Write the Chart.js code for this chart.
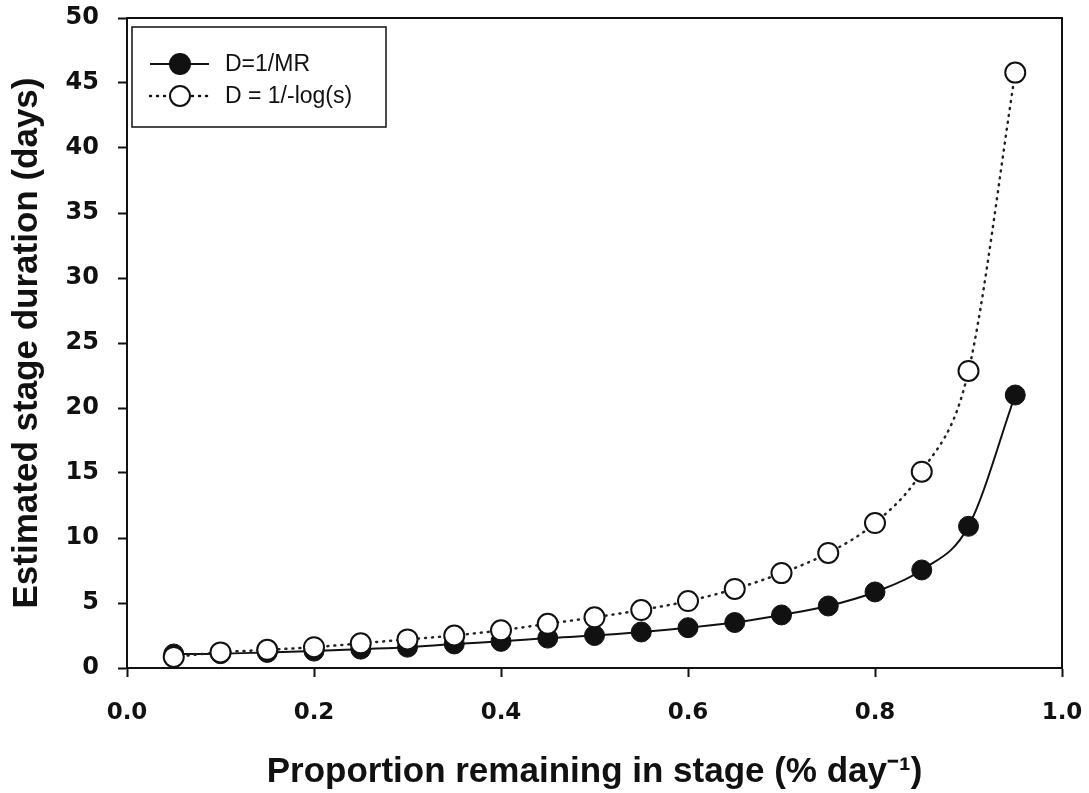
<!DOCTYPE html>
<html>
<head>
<meta charset="utf-8">
<script src="https://cdn.jsdelivr.net/npm/chart.js@4/dist/chart.umd.min.js"></script>
<style>
  html, body { margin: 0; padding: 0; background: #fff; }
  #wrap { width: 1089px; height: 793px; }
</style>
</head>
<body>
<div id="wrap"><canvas id="chart" width="1089" height="793"></canvas></div>
<script>
// values
const proportion = [0.05, 0.10, 0.15, 0.20, 0.25, 0.30, 0.35, 0.40, 0.45, 0.50,
                    0.55, 0.60, 0.65, 0.70, 0.75, 0.80, 0.85, 0.90, 0.95];
const durMR = [1.08, 1.1, 1.2, 1.3, 1.45, 1.6, 1.85, 2.05, 2.3, 2.5,
               2.77, 3.1, 3.5, 4.08, 4.77, 5.85, 7.54, 10.9, 21.0];
const durLog = [0.85, 1.2, 1.4, 1.6, 1.9, 2.2, 2.5, 2.9, 3.4, 3.9,
                4.46, 5.15, 6.08, 7.3, 8.85, 11.15, 15.1, 22.85, 45.8];
const seriesNames = ['D=1/MR', 'D = 1/-log(s)'];
const xTicks = [0, 0.2, 0.4, 0.6, 0.8, 1.0];
const yTicks = [0, 5, 10, 15, 20, 25, 30, 35, 40, 45, 50];

const toPoints = (ys) => proportion.map((x, i) => ({ x, y: ys[i] }));

// box around plot + hand drawn legend (line through marker)
const frame = {
  id: 'frame',
  afterDraw(chart) {
    const { ctx, chartArea: a } = chart;
    ctx.save();
    ctx.strokeStyle = '#111';
    ctx.lineWidth = 2;
    ctx.strokeRect(a.left, a.top, a.right - a.left, a.bottom - a.top);

    // legend
    const lx = 132, ly = 27, lw = 254, lh = 100;
    ctx.lineWidth = 1.5;
    ctx.strokeRect(lx, ly, lw, lh);
    const rows = [
      { y: ly + 37, fill: '#111', dash: [] },
      { y: ly + 69, fill: '#fff', dash: [1, 6] },
    ];
    rows.forEach((r, i) => {
      ctx.beginPath();
      ctx.setLineDash(r.dash);
      ctx.lineWidth = i === 0 ? 2 : 2.5;
      ctx.lineCap = i === 0 ? 'butt' : 'round';
      ctx.moveTo(lx + 18, r.y);
      ctx.lineTo(lx + 77, r.y);
      ctx.stroke();
      ctx.setLineDash([]);
      ctx.beginPath();
      ctx.arc(lx + 48, r.y, 10, 0, Math.PI * 2);
      ctx.fillStyle = r.fill;
      ctx.fill();
      ctx.lineWidth = 2;
      ctx.stroke();
      ctx.fillStyle = '#111';
      ctx.font = '23px "Liberation Sans", Arial, sans-serif';
      ctx.textBaseline = 'middle';
      ctx.fillText(seriesNames[i], lx + 93, r.y + 1);
    });
    ctx.restore();
  },
};

new Chart(document.getElementById('chart'), {
  type: 'scatter',
  data: {
    datasets: [
      {
        label: seriesNames[1],
        data: toPoints(durLog),
        showLine: true,
        borderColor: '#222',
        borderWidth: 2.5,
        borderDash: [1, 6],
        borderCapStyle: 'round',
        cubicInterpolationMode: 'monotone',
        pointRadius: 10,
        pointBorderWidth: 2,
        pointBackgroundColor: '#fff',
        pointBorderColor: '#111',
      },
      {
        label: seriesNames[0],
        data: toPoints(durMR),
        showLine: true,
        borderColor: '#111',
        borderWidth: 2,
        cubicInterpolationMode: 'monotone',
        pointRadius: 10,
        pointBorderWidth: 1,
        pointBackgroundColor: '#111',
        pointBorderColor: '#111',
      },
    ],
  },
  options: {
    responsive: false,
    animation: false,
    layout: { padding: { top: 18, right: 27, left: 0, bottom: 0 } },
    plugins: { legend: { display: false }, tooltip: { enabled: false } },
    scales: {
      x: {
        type: 'linear',
        min: 0,
        max: 1.0,
        afterBuildTicks: (s) => { s.ticks = xTicks.map((v) => ({ value: v })); },
        afterFit: (s) => { s.height = 125; s.paddingLeft = 0; s.paddingRight = 0; },
        border: { color: '#111', width: 2 },
        grid: { drawOnChartArea: false, tickLength: 9, tickColor: '#111', tickWidth: 2 },
        ticks: {
          color: '#111',
          padding: 22,
          font: { family: '"DejaVu Sans", Arial', size: 23, weight: 'bold' },
          callback: (v) => v.toFixed(1),
        },
        title: {
          display: true,
          text: 'Proportion remaining in stage (% day\u207B\u00B9)',
          color: '#111',
          font: { family: '"Liberation Sans Narrow", "Liberation Sans", Arial', size: 35, weight: 'bold' },
          padding: { top: 10, bottom: 0 },
        },
      },
      y: {
        min: 0,
        max: 50,
        afterBuildTicks: (s) => { s.ticks = yTicks.map((v) => ({ value: v })); },
        afterFit: (s) => { s.width = 127; s.paddingTop = 0; s.paddingBottom = 0; },
        border: { color: '#111', width: 2 },
        grid: { drawOnChartArea: false, tickLength: 9, tickColor: '#111', tickWidth: 2 },
        ticks: {
          color: '#111',
          padding: 19,
          font: { family: '"DejaVu Sans", Arial', size: 24, weight: 'bold' },
        },
        title: {
          display: true,
          text: 'Estimated stage duration (days)',
          color: '#111',
          font: { family: '"Liberation Sans", Arial', size: 35, weight: 'bold' },
          padding: { bottom: 0, top: 6 },
        },
      },
    },
  },
  plugins: [frame],
});
</script>
</body>
</html>
